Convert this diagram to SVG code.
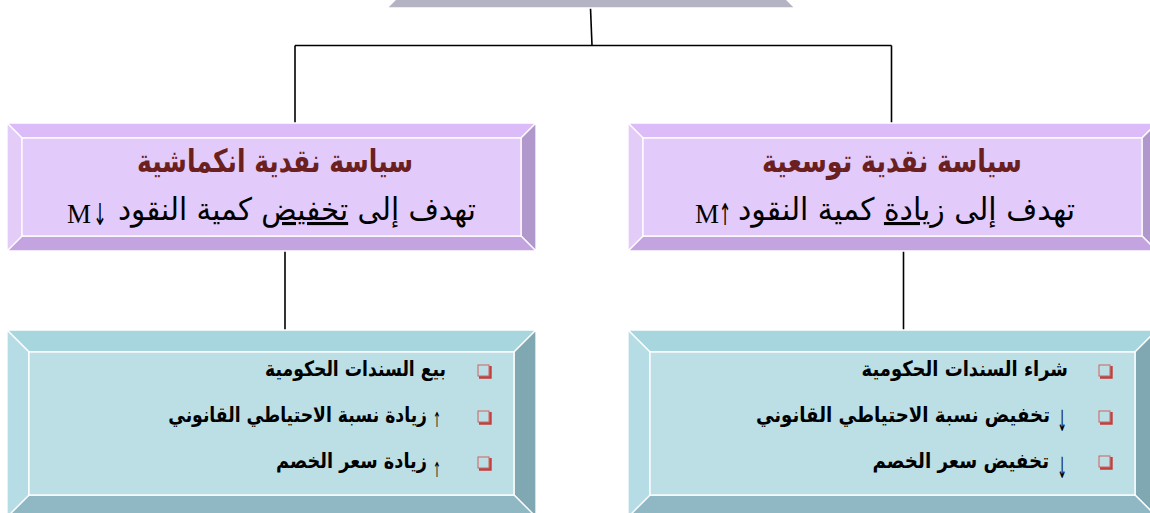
<svg xmlns="http://www.w3.org/2000/svg" width="1150" height="513" viewBox="0 0 1150 513">
<style>
.w{stroke:#ffffff;stroke-width:1.3;stroke-linejoin:miter}
.pt{fill:#dcbcf8}.pl{fill:#e4ccf9}.pf{fill:#e2cbfa}.pr{fill:#b097cc}.pb{fill:#c4a3e1}
.tt{fill:#a8d6de}.tl{fill:#b6dde5}.tf{fill:#bcdfe5}.tr{fill:#80a8b3}.tb{fill:#8fb8c4}
.gb{fill:#b3b3c3}
.title{font-family:'DejaVu Sans',sans-serif;font-weight:bold;font-size:32px;fill:#6b1f1f}
.sub{font-family:'DejaVu Sans',sans-serif;font-size:31px;fill:#000}
.m{font-family:'Liberation Serif',serif;font-size:27px;fill:#000}
.item{font-family:'DejaVu Sans',sans-serif;font-weight:bold;font-size:21px;fill:#000;text-anchor:end}
.arr{font-family:'DejaVu Sans',sans-serif;fill:#000;text-anchor:middle}
.line{stroke:#000;stroke-width:1.6;fill:none}
.bul{fill:none;stroke:#d06060;stroke-width:1}
.buls{fill:none;stroke:#c0403c;stroke-width:2.4}
</style>
<g id="connectors">
<path class="line" d="M590.5 8 L592 45.5"/>
<path class="line" d="M295 45.5 H891.5"/>
<path class="line" d="M295 45.5 V123"/>
<path class="line" d="M891.5 45.5 V123"/>
<path class="line" d="M285 251 V330"/>
<path class="line" d="M903.5 251 V330"/>
</g>
<g id="top-node">
<polygon class="gb w" points="387,8 795,8 780,-7 402,-7"/>
</g>
<g id="contractionary-policy">
<polygon class="pt w" points="7,123 536,123 521,138 22,138"/>
<polygon class="pr w" points="536,123 536,251 521,236 521,138"/>
<polygon class="pb w" points="7,251 536,251 521,236 22,236"/>
<polygon class="pl w" points="7,123 22,138 22,236 7,251"/>
<rect class="pf w" x="22" y="138" width="499" height="98"/>
<text class="title" x="413" y="172" text-anchor="end" textLength="276" lengthAdjust="spacingAndGlyphs">سياسة نقدية انكماشية</text>
<text class="sub" x="476" y="220" text-anchor="end" textLength="358" lengthAdjust="spacingAndGlyphs">تهدف إلى <tspan text-decoration="underline">تخفيض</tspan> كمية النقود</text>
<text class="m" x="67" y="223">M</text>
<text class="arr" font-size="30" transform="translate(100,225) scale(0.55,1)">↓</text>
</g>
<g id="expansionary-policy">
<polygon class="pt w" points="628,123 1157,123 1142,138 643,138"/>
<polygon class="pr w" points="1157,123 1157,251 1142,236 1142,138"/>
<polygon class="pb w" points="628,251 1157,251 1142,236 643,236"/>
<polygon class="pl w" points="628,123 643,138 643,236 628,251"/>
<rect class="pf w" x="643" y="138" width="499" height="98"/>
<text class="title" x="1022" y="172" text-anchor="end" textLength="260" lengthAdjust="spacingAndGlyphs">سياسة نقدية توسعية</text>
<text class="sub" x="1075" y="220" text-anchor="end" textLength="337" lengthAdjust="spacingAndGlyphs">تهدف إلى <tspan text-decoration="underline">زيادة</tspan> كمية النقود</text>
<text class="m" x="695" y="223">M</text>
<text class="arr" font-size="30" transform="translate(725,225) scale(0.5,1)">↑</text>
</g>
<g id="contractionary-tools">
<polygon class="tt w" points="7,330 536,330 514,352 29,352"/>
<polygon class="tr w" points="536,330 536,517 514,495 514,352"/>
<polygon class="tb w" points="7,517 536,517 514,495 29,495"/>
<polygon class="tl w" points="7,330 29,352 29,495 7,517"/>
<rect class="tf w" x="29" y="352" width="485" height="143"/>
<rect class="bul" x="478" y="365" width="11" height="11"/><path class="buls" d="M479 377.5 H490.5 V366"/>
<rect class="bul" x="478" y="411" width="11" height="11"/><path class="buls" d="M479 423.5 H490.5 V412"/>
<rect class="bul" x="478" y="457" width="11" height="11"/><path class="buls" d="M479 469.5 H490.5 V458"/>
<text class="item" transform="translate(446,376) scale(0.82,1)">بيع السندات الحكومية</text>
<text class="arr" font-size="21" transform="translate(437,427) scale(0.45,1)">↑</text>
<text class="item" transform="translate(427,422) scale(0.82,1)">زيادة نسبة الاحتياطي القانوني</text>
<text class="arr" font-size="21" transform="translate(437,477) scale(0.45,1)">↑</text>
<text class="item" transform="translate(427,468) scale(0.845,1)">زيادة سعر الخصم</text>
</g>
<g id="expansionary-tools">
<polygon class="tt w" points="628,330 1157,330 1135,352 650,352"/>
<polygon class="tr w" points="1157,330 1157,517 1135,495 1135,352"/>
<polygon class="tb w" points="628,517 1157,517 1135,495 650,495"/>
<polygon class="tl w" points="628,330 650,352 650,495 628,517"/>
<rect class="tf w" x="650" y="352" width="485" height="143"/>
<rect class="bul" x="1099" y="365" width="11" height="11"/><path class="buls" d="M1100 377.5 H1111.5 V366"/>
<rect class="bul" x="1099" y="411" width="11" height="11"/><path class="buls" d="M1100 423.5 H1111.5 V412"/>
<rect class="bul" x="1099" y="456" width="11" height="11"/><path class="buls" d="M1100 468.5 H1111.5 V457"/>
<text class="item" transform="translate(1068,376) scale(0.855,1)">شراء السندات الحكومية</text>
<text class="arr" font-size="29" transform="translate(1062,431) scale(0.4,1)">↓</text>
<text class="item" transform="translate(1050,422) scale(0.865,1)">تخفيض نسبة الاحتياطي القانوني</text>
<text class="arr" font-size="29" transform="translate(1062,478) scale(0.4,1)">↓</text>
<text class="item" transform="translate(1049,468) scale(0.87,1)">تخفيض سعر الخصم</text>
</g>
</svg>
